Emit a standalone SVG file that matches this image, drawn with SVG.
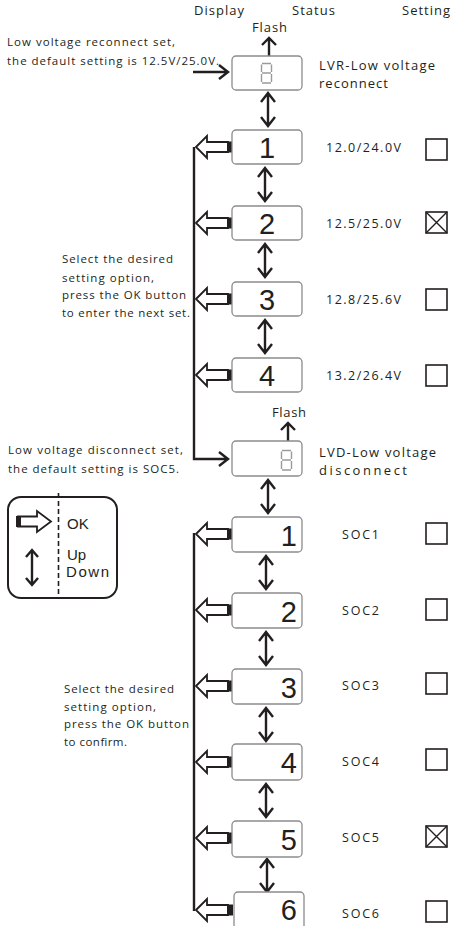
<svg xmlns="http://www.w3.org/2000/svg" width="453" height="926" viewBox="0 0 453 926">
<style>
.t{font-family:"Open Sans","Noto Sans",sans-serif;fill:#231f20}
.h{font-size:13px}
.s{font-size:11.5px}
.v{font-size:12.5px}
.d{font-family:"Liberation Sans",Arial,sans-serif;font-size:29px;fill:#231f20}
.lg{font-family:"Liberation Sans",Arial,sans-serif;font-size:15px;fill:#231f20}
.box{fill:#fff;stroke:#8c8c8c;stroke-width:1.3}
.cb{fill:#fff;stroke:#231f20;stroke-width:1.6}
.ln{fill:none;stroke:#231f20;stroke-width:2.4;stroke-linecap:butt;stroke-linejoin:miter}
.hol{fill:#fff;stroke:#231f20;stroke-width:1.8;stroke-linejoin:miter}
.seg{fill:none;stroke:#9a9a9a;stroke-width:1.4}
</style>
<defs>
<g id="dbl"><path class="ln" d="M0,0V33M-7,9L0,0L7,9M-7,24L0,33L7,24"/></g>
<g id="hl"><polygon class="hol" points="2,0 13,-11 13,-5 34,-5 34,5 13,5 13,11"/><rect x="33" y="-5.5" width="6" height="11" fill="#231f20"/></g>
<g id="cbx"><rect class="cb" x="0" y="0" width="21" height="21"/></g>
<g id="cbxx"><rect class="cb" x="0" y="0" width="21" height="21"/><path d="M0,0L21,21M21,0L0,21" stroke="#231f20" stroke-width="1.4"/></g>
</defs>

<g id="headers">
<text class="t h" x="194" y="15" textLength="50">Display</text>
<text class="t h" x="292" y="15" textLength="43">Status</text>
<text class="t h" x="402" y="15" textLength="48">Setting</text>
</g>

<g id="notes">
<text class="t s" x="7" y="46" textLength="168">Low voltage reconnect set,</text>
<text class="t s" x="7" y="65" textLength="212">the default setting is 12.5V/25.0V.</text>
<text class="t s" x="62" y="263" textLength="111">Select the desired</text>
<text class="t s" x="62" y="282" textLength="92">setting option,</text>
<text class="t s" x="62" y="299" textLength="124">press the OK button</text>
<text class="t s" x="62" y="317" textLength="128">to enter the next set.</text>
<text class="t s" x="8" y="454" textLength="175">Low voltage disconnect set,</text>
<text class="t s" x="8" y="473" textLength="171">the default setting is SOC5.</text>
<text class="t s" x="64" y="693" textLength="110">Select the desired</text>
<text class="t s" x="64" y="711" textLength="92">setting option,</text>
<text class="t s" x="64" y="728" textLength="125">press the OK button</text>
<text class="t s" x="64" y="746" textLength="63">to confirm.</text>
</g>

<g id="connectors">
<path class="ln" d="M269,56V38M262,45L269,38L276,45"/>
<path class="ln" d="M288,441V423M281,430L288,423L295,430"/>
<path class="ln" d="M193,72H228M219,65L228,72L219,79"/>
<path class="ln" d="M194,147V459H228M219,452L228,459L219,466"/>
<path class="ln" d="M194,533V911"/>
<use href="#dbl" x="268" y="93"/>
<use href="#dbl" x="265" y="168"/>
<use href="#dbl" x="265" y="244"/>
<use href="#dbl" x="265" y="320"/>
<use href="#dbl" x="268" y="480"/>
<use href="#dbl" x="266" y="556"/>
<use href="#dbl" x="266" y="632"/>
<use href="#dbl" x="266" y="708"/>
<use href="#dbl" x="266" y="784"/>
<use href="#dbl" x="267" y="859"/>
<use href="#hl" x="194" y="147"/>
<use href="#hl" x="194" y="223"/>
<use href="#hl" x="194" y="299"/>
<use href="#hl" x="194" y="375"/>
<use href="#hl" x="194" y="534"/>
<use href="#hl" x="194" y="610"/>
<use href="#hl" x="194" y="686"/>
<use href="#hl" x="194" y="762"/>
<use href="#hl" x="194" y="838"/>
<use href="#hl" x="194" y="910"/>
</g>

<g id="lvr">
<text class="t h" x="252" y="32" textLength="35">Flash</text>
<rect class="box" x="232" y="56" width="70" height="34" rx="4"/>
<path class="seg" d="M262,63.5H271M261.5,64.5V72M271.5,64.5V72M262,73H271M261.5,74V82M271.5,74V82M262,83H271"/>
<text class="t h" x="319" y="70" textLength="116">LVR-Low voltage</text>
<text class="t h" x="319" y="88" textLength="69">reconnect</text>
</g>

<g id="lvr1"><rect class="box" x="232" y="130" width="70" height="34" rx="4"/><text class="d" x="267" y="157.5" text-anchor="middle">1</text><text class="t v" x="326" y="152" textLength="75">12.0/24.0V</text><use href="#cbx" x="426" y="139"/></g>
<g id="lvr2"><rect class="box" x="232" y="206" width="70" height="34" rx="4"/><text class="d" x="267" y="233.5" text-anchor="middle">2</text><text class="t v" x="326" y="228" textLength="75">12.5/25.0V</text><use href="#cbxx" x="426" y="212"/></g>
<g id="lvr3"><rect class="box" x="232" y="282" width="70" height="34" rx="4"/><text class="d" x="267" y="309.5" text-anchor="middle">3</text><text class="t v" x="326" y="304" textLength="75">12.8/25.6V</text><use href="#cbx" x="426" y="289"/></g>
<g id="lvr4"><rect class="box" x="232" y="358" width="70" height="34" rx="4"/><text class="d" x="267" y="385.5" text-anchor="middle">4</text><text class="t v" x="326" y="380" textLength="75">13.2/26.4V</text><use href="#cbx" x="426" y="365"/></g>

<g id="lvd">
<text class="t h" x="272" y="417" textLength="34">Flash</text>
<rect class="box" x="232" y="441" width="70" height="35" rx="4"/>
<path class="seg" d="M282,450.5H291M281.5,451.5V459M291.5,451.5V459M282,460H291M281.5,461V469M291.5,461V469M282,470H291"/>
<text class="t h" x="319" y="457" textLength="117">LVD-Low voltage</text>
<text class="t h" x="319" y="475" textLength="88">disconnect</text>
</g>

<g id="soc1"><rect class="box" x="232" y="517" width="70" height="35" rx="4"/><text class="d" x="297" y="546" text-anchor="end">1</text><text class="t v" x="342" y="539" textLength="37">SOC1</text><use href="#cbx" x="426" y="523"/></g>
<g id="soc2"><rect class="box" x="232" y="593" width="70" height="35" rx="4"/><text class="d" x="297" y="622" text-anchor="end">2</text><text class="t v" x="342" y="615" textLength="37">SOC2</text><use href="#cbx" x="426" y="599"/></g>
<g id="soc3"><rect class="box" x="232" y="669" width="70" height="35" rx="4"/><text class="d" x="297" y="698" text-anchor="end">3</text><text class="t v" x="342" y="690" textLength="37">SOC3</text><use href="#cbx" x="426" y="673"/></g>
<g id="soc4"><rect class="box" x="232" y="744" width="70" height="36" rx="4"/><text class="d" x="297" y="773" text-anchor="end">4</text><text class="t v" x="342" y="766" textLength="37">SOC4</text><use href="#cbx" x="426" y="749"/></g>
<g id="soc5"><rect class="box" x="232" y="821" width="70" height="36" rx="4"/><text class="d" x="297" y="850" text-anchor="end">5</text><text class="t v" x="342" y="842" textLength="37">SOC5</text><use href="#cbxx" x="426" y="826"/></g>
<g id="soc6"><rect class="box" x="234" y="892" width="70" height="42" rx="4"/><text class="d" x="297" y="920" text-anchor="end">6</text><text class="t v" x="342" y="918" textLength="37">SOC6</text><use href="#cbx" x="426" y="901"/></g>

<g id="legend">
<rect x="8" y="497" width="109" height="101" rx="13" fill="#fff" stroke="#231f20" stroke-width="2"/>
<path d="M58.5,493V598" stroke="#231f20" stroke-width="1.6" stroke-dasharray="5,3"/>
<polygon class="hol" points="18,516.5 37,516.5 37,511 51,521.5 37,532 37,526.5 18,526.5"/>
<rect x="16" y="516" width="5" height="11" fill="#231f20"/>
<path class="ln" d="M32,550V585M26,557L32,550L38,557M26,578L32,585L38,578"/>
<text class="lg" x="67" y="529">OK</text>
<text class="lg" x="67" y="560">Up</text>
<text class="lg" x="66" y="577" textLength="43">Down</text>
</g>
</svg>
